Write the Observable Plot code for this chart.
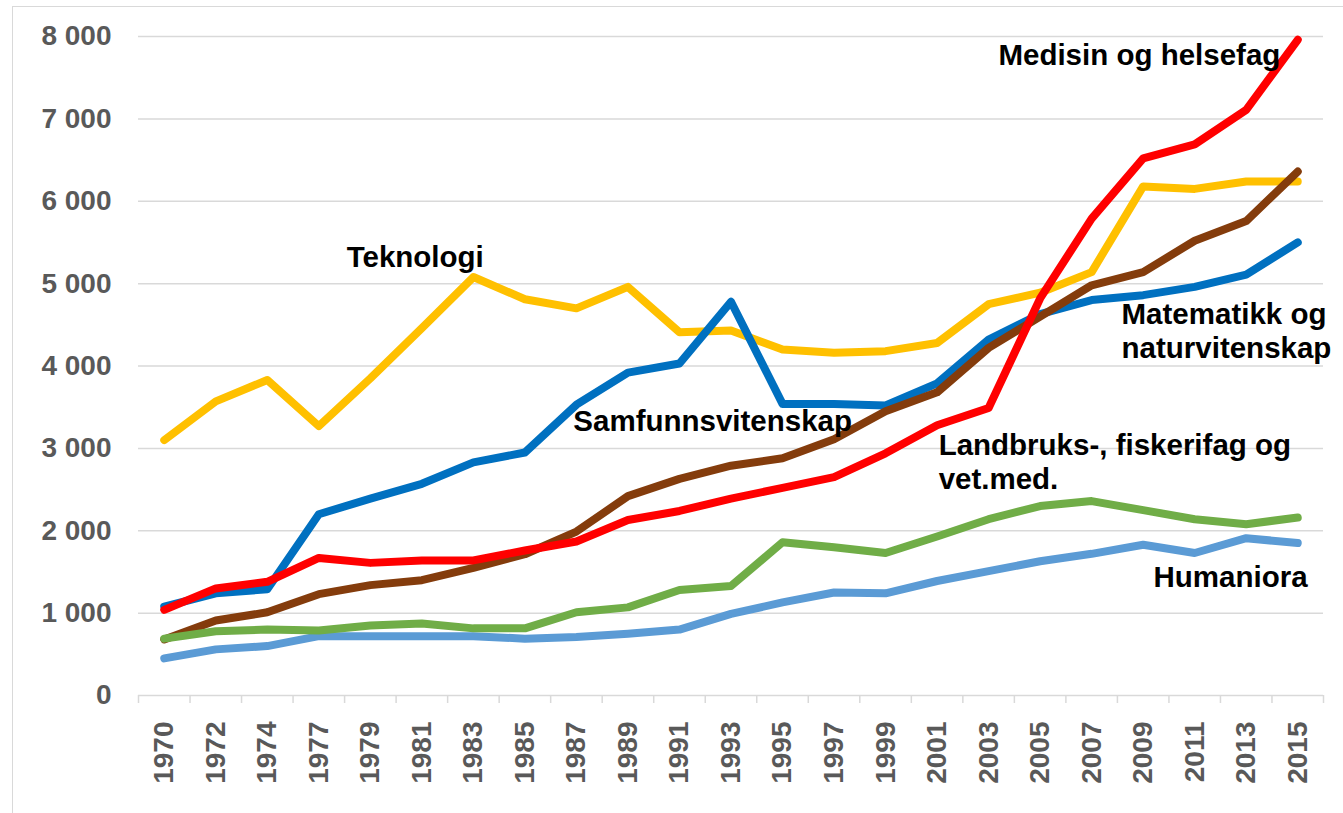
<!DOCTYPE html>
<html><head><meta charset="utf-8">
<script src="https://cdn.jsdelivr.net/npm/d3@7"></script>
<script src="https://cdn.jsdelivr.net/npm/@observablehq/plot@0.6"></script>
<style>
html,body{margin:0;padding:0;background:#fff;overflow:hidden;}
#wrap{position:relative;width:1343px;height:813px;}
#frame{position:absolute;left:12px;top:6px;width:1340px;height:820px;border:1px solid #d9d9d9;pointer-events:none;}
</style></head><body><div id="wrap"><div id="frame"></div></div>
<script>
const years = ["1970","1972","1974","1977","1979","1981","1983","1985","1987","1989","1991","1993","1995","1997","1999","2001","2003","2005","2007","2009","2011","2013","2015"];

const teknologi = [3100,3570,3830,3270,3850,4460,5080,4810,4700,4960,4410,4430,4200,4160,4180,4280,4750,4890,5140,6180,6150,6240,6240];
const matnat    = [1080,1240,1290,2200,2390,2570,2830,2950,3530,3920,4030,4780,3540,3540,3520,3790,4320,4630,4800,4860,4960,5110,5500];
const samfunn   = [680,910,1010,1230,1340,1400,1550,1715,1990,2420,2630,2790,2880,3110,3450,3680,4220,4600,4980,5140,5520,5760,6360];
const humaniora = [450,560,600,720,720,720,720,690,710,750,800,990,1130,1250,1240,1390,1510,1630,1720,1830,1730,1910,1850];
const landbruk  = [690,780,800,790,850,875,815,815,1010,1070,1280,1330,1860,1800,1730,1930,2140,2300,2360,2250,2140,2080,2160];
const medisin   = [1040,1300,1380,1670,1610,1640,1640,1760,1870,2130,2240,2390,2520,2650,2940,3280,3490,4820,5790,6520,6690,7110,7960];

const seriesNames  = ["Teknologi","Matematikk og naturvitenskap","Samfunnsvitenskap","Humaniora","Landbruks-, fiskerifag og vet.med.","Medisin og helsefag"];
const seriesValues = [teknologi, matnat, samfunn, humaniora, landbruk, medisin];
const seriesColors = ["#FFC000","#0070C0","#843C0C","#5B9BD5","#70AD47","#FF0000"];

const yTicks = [0,1000,2000,3000,4000,5000,6000,7000,8000];

// label annotations (anchor: category index, value)
const labelText = ["Teknologi","Samfunnsvitenskap","Medisin og helsefag","Matematikk og\nnaturvitenskap","Landbruks-, fiskerifag og\nvet.med.","Humaniora"];
const labelX = [3.54, 7.94, 16.19, 18.58, 15.03, 19.2];
const labelY = [5204, 3210, 7660, 4097, 2505, 1313];

const rows = seriesNames.flatMap((name, s) => seriesValues[s].map((v, i) => ({series: name, i, value: v})));
const fmt = d => d3.format(",")(d).replace(/,/g, " ");
const idx = d3.range(years.length);
const bounds = d3.range(years.length + 1).map(k => k - 0.5);

const chart = Plot.plot({
  width: 1343,
  height: 813,
  marginLeft: 138,
  marginRight: 20,
  marginTop: 36,
  marginBottom: 118,
  style: {fontFamily: "'Liberation Sans', Arial, sans-serif", fontWeight: "bold", fontSize: "28px", background: "transparent"},
  x: {type: "linear", domain: [-0.5, years.length - 0.5]},
  y: {domain: [0, 8000]},
  color: {domain: seriesNames, range: seriesColors},
  marks: [
    Plot.gridY(yTicks, {stroke: "#d9d9d9", strokeOpacity: 1, strokeWidth: 1.5}),
    Plot.axisY({ticks: yTicks, tickSize: 0, tickPadding: 27, tickFormat: fmt, label: null, color: "#595959", fontSize: 28, fontWeight: "bold"}),
    Plot.axisX({ticks: bounds, tickSize: 8, tickFormat: () => "", label: null, stroke: "#d9d9d9", strokeWidth: 1.5}),
    Plot.axisX({ticks: idx, tickSize: 0, tickPadding: 26, tickRotate: -90, tickFormat: i => years[i], label: null, color: "#595959", fontSize: 28, fontWeight: "bold"}),
    Plot.line(rows, {x: "i", y: "value", z: "series", stroke: "series", strokeWidth: 8, strokeLinejoin: "round", strokeLinecap: "round"}),
    Plot.text(labelText, {x: (d, i) => labelX[i], y: (d, i) => labelY[i], text: d => d, textAnchor: "start", lineAnchor: "bottom", fontSize: 29.5, fontWeight: "bold", fill: "#000", lineHeight: 1.17})
  ]
});
document.getElementById("wrap").prepend(chart);
</script>
</body></html>
